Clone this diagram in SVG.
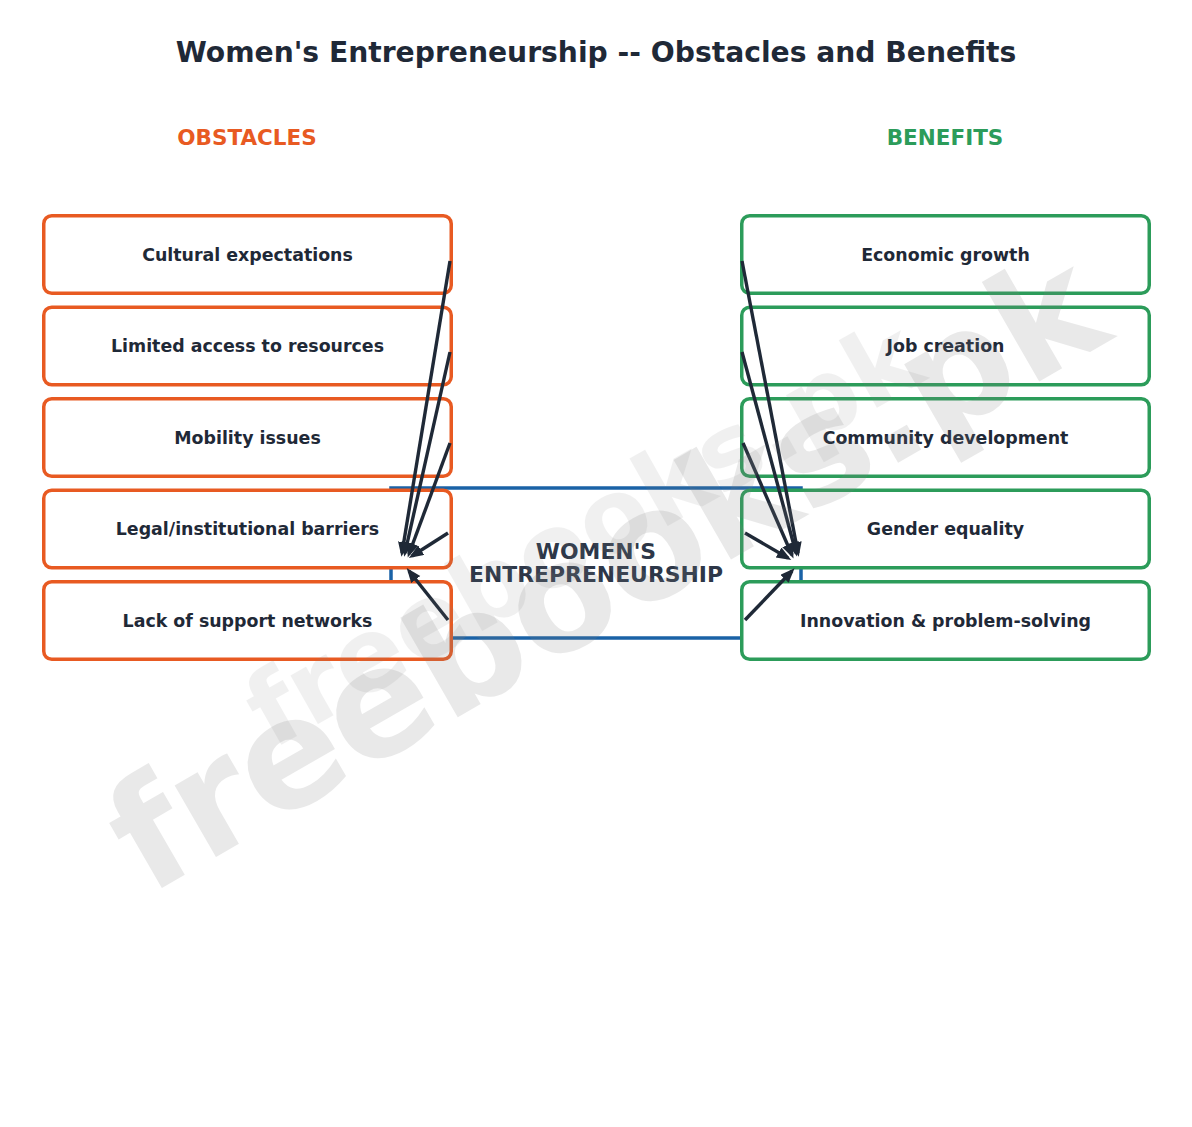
<svg xmlns="http://www.w3.org/2000/svg" width="1192" height="1127" viewBox="0 0 1192 1127">
<style>
.t{font-family:"DejaVu Sans","Liberation Sans",sans-serif;font-weight:bold;text-anchor:middle}
.lbl{font-size:17.4px;fill:#1f2937}
.ob{fill:#ffffff;stroke:#e85a22;stroke-width:3.5}
.be{fill:#ffffff;stroke:#2c9c5a;stroke-width:3.5}
.ar{stroke:#1f2937;stroke-width:3.4;fill:none;marker-end:url(#ah)}
.wm{font-family:"DejaVu Sans","Liberation Sans",sans-serif;font-weight:bold;fill:#808080}
</style>
<defs>
<marker id="ah" markerUnits="strokeWidth" markerWidth="5" markerHeight="4" refX="3.2" refY="1.7" orient="auto">
<path d="M0,0 L4.3,1.7 L0,3.4 z" fill="#1f2937"/>
</marker>
</defs>
<rect width="1192" height="1127" fill="#ffffff"/>
<text class="t" x="596" y="62" font-size="28.2" fill="#1f2937">Women's Entrepreneurship -- Obstacles and Benefits</text>
<text class="t" x="247" y="144.5" font-size="21.5" fill="#e85a22">OBSTACLES</text>
<text class="t" x="945" y="144.5" font-size="21.5" fill="#2c9c5a">BENEFITS</text>
<g id="center">
<rect x="391" y="488" width="410" height="150" fill="#ffffff" stroke="#1a62a6" stroke-width="3.5"/>
<text class="t" x="596" y="559" font-size="21.9" fill="#2d3748">WOMEN'S</text>
<text class="t" x="596" y="582" font-size="21.9" fill="#2d3748">ENTREPRENEURSHIP</text>
</g>
<g id="obstacle1"><rect class="ob" x="43.75" y="215.75" width="407.5" height="77.5" rx="8"/><text class="t lbl" x="247.5" y="260.5">Cultural expectations</text></g>
<g id="obstacle2"><rect class="ob" x="43.75" y="307.25" width="407.5" height="77.5" rx="8"/><text class="t lbl" x="247.5" y="352">Limited access to resources</text></g>
<g id="obstacle3"><rect class="ob" x="43.75" y="398.75" width="407.5" height="77.5" rx="8"/><text class="t lbl" x="247.5" y="443.5">Mobility issues</text></g>
<g id="obstacle4"><rect class="ob" x="43.75" y="490.25" width="407.5" height="77.5" rx="8"/><text class="t lbl" x="247.5" y="535">Legal/institutional barriers</text></g>
<g id="obstacle5"><rect class="ob" x="43.75" y="581.75" width="407.5" height="77.5" rx="8"/><text class="t lbl" x="247.5" y="626.5">Lack of support networks</text></g>
<g id="benefit1"><rect class="be" x="741.75" y="215.75" width="407.5" height="77.5" rx="8"/><text class="t lbl" x="945.5" y="260.5">Economic growth</text></g>
<g id="benefit2"><rect class="be" x="741.75" y="307.25" width="407.5" height="77.5" rx="8"/><text class="t lbl" x="945.5" y="352">Job creation</text></g>
<g id="benefit3"><rect class="be" x="741.75" y="398.75" width="407.5" height="77.5" rx="8"/><text class="t lbl" x="945.5" y="443.5">Community development</text></g>
<g id="benefit4"><rect class="be" x="741.75" y="490.25" width="407.5" height="77.5" rx="8"/><text class="t lbl" x="945.5" y="535">Gender equality</text></g>
<g id="benefit5"><rect class="be" x="741.75" y="581.75" width="407.5" height="77.5" rx="8"/><text class="t lbl" x="945.5" y="626.5">Innovation &amp; problem-solving</text></g>
<g id="connectors">
<line class="ar" x1="450" y1="261" x2="402" y2="553"/>
<line class="ar" x1="450" y1="352" x2="405" y2="553"/>
<line class="ar" x1="450" y1="443" x2="409" y2="554"/>
<line class="ar" x1="448" y1="533" x2="412" y2="556"/>
<line class="ar" x1="448" y1="620" x2="409" y2="571"/>
<line class="ar" x1="742" y1="261" x2="798" y2="553"/>
<line class="ar" x1="742" y1="352" x2="796" y2="553"/>
<line class="ar" x1="743" y1="443" x2="792" y2="555"/>
<line class="ar" x1="745" y1="533" x2="788" y2="558"/>
<line class="ar" x1="745" y1="620" x2="792" y2="571"/>
</g>
<g id="watermark">
<text class="wm" x="272" y="750" font-size="102" opacity="0.11" transform="rotate(-29.5 272 750)">freebooks.pk</text>
<text class="wm" x="148" y="896" font-size="151" opacity="0.17" transform="rotate(-30 148 896)">freebooks.pk</text>
</g>
</svg>
